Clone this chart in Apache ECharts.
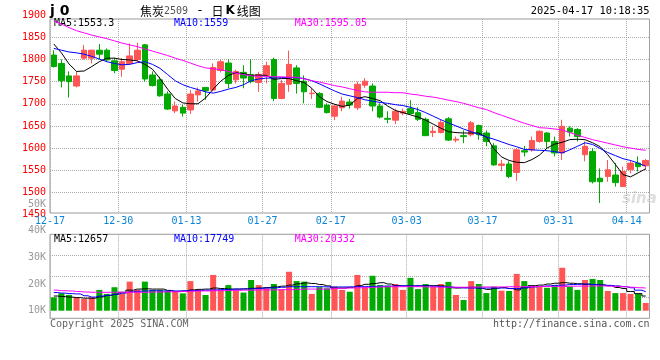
<!DOCTYPE html>
<html><head><meta charset="utf-8">
<script src="https://cdn.jsdelivr.net/npm/echarts@6/dist/echarts.min.js"></script>
<style>html,body{margin:0;padding:0;background:#fff}#c{width:660px;height:360px}</style>
</head><body><div id="c"></div><script>
const dates = ['12-17','12-18','12-19','12-20','12-23','12-24','12-25','12-26','12-27','12-30',
'12-31','01-02','01-03','01-06','01-07','01-08','01-09','01-10','01-13','01-14',
'01-15','01-16','01-17','01-20','01-21','01-22','01-23','01-24','01-27','02-05',
'02-06','02-07','02-10','02-11','02-12','02-13','02-14','02-17','02-18','02-19',
'02-20','02-21','02-24','02-25','02-26','02-27','02-28','03-03','03-04','03-05',
'03-06','03-07','03-10','03-11','03-12','03-13','03-14','03-17','03-18','03-19',
'03-20','03-21','03-24','03-25','03-26','03-27','03-28','03-31','04-01','04-02',
'04-03','04-07','04-08','04-09','04-10','04-11','04-14','04-15','04-16'];
const labeledDates = ['12-17','12-30','01-13','01-27','02-17','03-03','03-17','03-31','04-14'];

const opens = [1810,1791,1763,1740,1803,1803,1821,1821,1797,1778,
1791,1800,1833,1765,1754,1722,1684,1692,1686,1720,
1737,1731,1775,1792,1754,1771,1766,1748,1764,1800,
1712,1744,1781,1751,1723,1723,1697,1672,1691,1704,
1691,1742,1740,1695,1667,1663,1679,1689,1680,1665,
1635,1635,1666,1618,1628,1630,1651,1634,1605,1561,
1564,1545,1594,1596,1615,1634,1615,1589,1645,1642,
1585,1592,1532,1536,1539,1513,1551,1566,1560];
const closes = [1784,1752,1750,1763,1821,1821,1812,1799,1775,1795,
1808,1821,1756,1741,1718,1688,1695,1679,1722,1729,
1730,1782,1795,1746,1773,1758,1750,1766,1786,1712,
1746,1789,1746,1727,1724,1692,1680,1695,1706,1697,
1744,1751,1695,1670,1665,1683,1683,1678,1665,1628,
1638,1658,1618,1620,1626,1657,1630,1615,1562,1564,
1536,1596,1591,1617,1638,1615,1589,1649,1636,1626,
1604,1524,1524,1551,1522,1547,1566,1558,1572];
const lows = [1782,1737,1714,1737,1800,1791,1800,1795,1769,1761,
1788,1795,1750,1739,1716,1686,1679,1671,1677,1705,
1709,1728,1771,1735,1746,1735,1746,1727,1746,1706,
1710,1727,1723,1701,1711,1690,1678,1663,1683,1689,
1686,1736,1683,1667,1656,1654,1674,1676,1661,1628,
1625,1633,1616,1613,1611,1626,1619,1604,1560,1548,
1532,1526,1581,1592,1612,1598,1581,1573,1626,1615,
1570,1520,1476,1524,1513,1513,1543,1547,1551];
const highs = [1821,1800,1773,1773,1833,1822,1835,1825,1804,1803,
1836,1838,1835,1773,1761,1728,1705,1698,1731,1737,
1737,1791,1799,1800,1777,1787,1801,1772,1795,1804,
1754,1820,1787,1764,1735,1726,1701,1698,1716,1711,
1750,1758,1746,1701,1683,1689,1689,1708,1692,1669,
1650,1665,1670,1626,1640,1661,1653,1640,1611,1573,
1570,1600,1605,1626,1640,1636,1626,1664,1649,1645,
1615,1600,1554,1573,1566,1558,1573,1581,1575];

const ma5 = [1835,1815,1790,1773,1774,1784,1795,1803,1803,1800,
1799,1797,1789,1778,1757,1733,1712,1702,1700,1700,
1713,1733,1751,1764,1770,1768,1764,1765,1764,1755,
1757,1757,1752,1748,1735,1716,1705,1699,1694,1697,
1712,1716,1712,1707,1695,1685,1680,1675,1670,1663,
1654,1645,1637,1635,1634,1634,1634,1625,1598,1580,
1572,1568,1567,1574,1584,1600,1609,1613,1619,1620,
1619,1612,1603,1585,1563,1540,1535,1544,1553.3];
const ma10 = [1825,1821,1817,1815,1812,1807,1801,1795,1791,1788,
1789,1793,1795,1789,1780,1766,1752,1743,1737,1732,
1727,1724,1728,1733,1737,1743,1752,1756,1758,1758,
1759,1759,1759,1757,1752,1745,1737,1729,1722,1718,
1714,1709,1706,1703,1701,1698,1696,1692,1687,1680,
1672,1664,1657,1650,1643,1637,1631,1625,1620,1614,
1608,1603,1597,1596,1595,1594,1592,1589,1596,1604,
1612,1608,1599,1590,1583,1576,1572,1566,1559];
const ma30 = [1887,1880,1872,1865,1860,1855,1851,1847,1842,1837,
1833,1829,1824,1819,1814,1809,1803,1798,1792,1786,
1781,1779,1777,1773,1769,1766,1763,1762,1762,1761,
1761,1760,1760,1756,1752,1749,1745,1741,1738,1734,
1730,1727,1726,1726,1726,1725,1725,1722,1720,1717,
1715,1712,1708,1705,1701,1696,1691,1687,1680,1674,
1668,1662,1656,1651,1646,1645,1643,1641,1635,1629,
1624,1619,1615,1611,1607,1603,1600,1597,1595.05];

const volumes = [15000,16500,15900,15000,14400,15000,17800,16300,18800,16500,
20900,17800,20900,17800,17800,17500,17100,16500,21100,17800,
15900,23400,17800,19600,17400,16800,21500,19600,18400,20000,
18100,24600,21100,20900,16300,18800,18400,19000,17800,17100,
23400,18800,23100,19600,19400,20000,17800,22300,18100,20000,
19000,20000,20800,15900,14000,21100,20000,16600,19000,17500,
17400,23800,21100,19300,19000,18600,19600,26100,19000,17800,
21500,21900,21500,17400,16600,16600,16300,16300,12900];
const volMa5 = [15500,15300,15100,14900,14700,14700,15200,15700,16100,16900,
17700,18100,18200,18100,18100,17600,17200,17400,17800,18000,
18100,18500,18300,18100,18100,18200,18400,18500,18700,18900,
19200,19600,20100,20400,20200,19800,19300,18500,18500,18800,
19400,19900,20200,20500,20000,19400,19300,19300,19300,19400,
19400,19300,18600,18500,18700,18800,18400,18000,18400,18700,
18300,17800,18600,19400,19600,20000,20300,20500,20300,20100,
19900,19800,19700,19400,18700,18300,17200,16400,15500];
const volMa10 = [16800,16600,16400,16300,15600,15100,15500,15800,16200,16600,
17100,17300,17400,17500,17400,17400,17400,17400,17500,17600,
17700,17800,17900,18000,18100,18100,18200,18400,18500,18600,
18800,19000,19000,19000,19000,19000,18900,18900,18900,18900,
19000,19000,19100,19200,19200,19300,19300,19300,19300,19300,
19200,19000,18900,18700,18500,18500,18500,18500,18500,18500,
18300,18300,18600,18900,19100,19300,19500,19600,19800,19900,
20000,19800,19600,19500,19300,19000,18600,17700,17100];
const volMa30 = [17700,17500,17400,17200,17000,16900,16900,16900,16900,16900,
16900,16900,16900,17000,17000,17100,17100,17200,17300,17400,
17400,17500,17500,17600,17600,17700,17700,17800,17800,17800,
17900,17900,18000,18100,18100,18100,18100,18300,18400,18500,
18600,18600,18800,18900,19000,19000,19000,19000,19000,18900,
18900,18800,18800,18800,18800,18800,18900,18900,18900,18900,
19000,19000,19000,19000,19100,19100,19100,19100,19200,19200,
19200,19300,19300,19200,19100,19000,18800,18600,18500];

const priceMaTexts = ['MA5:1553.3', 'MA10:1559', 'MA30:1595.05'];
const volMaTexts = ['MA5:12657', 'MA10:17749', 'MA30:20332'];
const titleCode = 'j 0';
const titleName = '焦炭';
const titleContract = '2509';
const timeText = '2025-04-17 10:18:35';
const copyrightText = 'Copyright 2025 SINA.COM';
const urlText = 'http://finance.sina.com.cn';

const MONO = '"DejaVu Sans Mono", monospace';
const UP = '#ff5555', DOWN = '#00aa00';
const maColors = ['#000000', '#0000ff', '#ff00ff'];
const GRIDC = '#aaaaaa';
const labelSet = new Set(labeledDates);
const isLab = (i) => labelSet.has(dates[i]);
const L = 50, W = 599.5;

const chart = echarts.init(document.getElementById('c'), null, {renderer: 'canvas'});

const dottedSplit = {show: true, lineStyle: {color: GRIDC, type: 'dotted', width: 1}};

const option = {
  animation: false,
  backgroundColor: '#fff',
  grid: [
    {left: L, top: 19, width: W, height: 194, show: true, borderColor: '#999', borderWidth: 1, backgroundColor: 'transparent'},
    {left: L, top: 15.2, width: W, height: 199.3},
    {left: L, top: 234.3, width: W, height: 84, show: true, borderColor: '#999', borderWidth: 1, backgroundColor: 'transparent'},
    {left: L, top: 204, width: W, height: 106.7}
  ],
  xAxis: [
    {gridIndex: 0, type: 'category', data: dates, boundaryGap: true,
      axisLine: {show: false}, axisTick: {show: false},
      axisLabel: {show: true, interval: isLab, margin: 3, color: '#0a84d6',
        fontFamily: MONO, fontSize: 10,
        formatter: (v) => '{d|' + v + '}',
        rich: {d: {padding: [0, 7.6, 0, 0], fontFamily: MONO, fontSize: 10, color: '#0a84d6'}}},
      splitLine: Object.assign({interval: isLab}, dottedSplit)},
    {gridIndex: 1, type: 'category', data: dates, boundaryGap: true, show: false},
    {gridIndex: 2, type: 'category', data: dates, boundaryGap: true,
      axisLine: {show: false}, axisTick: {show: false}, axisLabel: {show: false},
      splitLine: Object.assign({interval: isLab}, dottedSplit)},
    {gridIndex: 3, type: 'category', data: dates, boundaryGap: true, show: false}
  ],
  yAxis: [
    {gridIndex: 0, type: 'value', show: false},
    {gridIndex: 1, type: 'value', min: 1450, max: 1900, interval: 50, position: 'left',
      axisLine: {show: false}, axisTick: {show: false},
      axisLabel: {color: '#ff0000', fontFamily: MONO, fontSize: 10, margin: 4, formatter: (v) => String(v)},
      splitLine: {show: true, showMinLine: false, showMaxLine: false, lineStyle: {color: GRIDC, type: 'dotted'}}},
    {gridIndex: 2, type: 'value', min: 0, max: 4, interval: 1,
      axisLine: {show: false}, axisTick: {show: false}, axisLabel: {show: false},
      splitLine: {show: true, showMinLine: false, showMaxLine: false, lineStyle: {color: GRIDC, type: 'dotted'}}},
    {gridIndex: 3, type: 'value', min: 10000, max: 50000, interval: 10000, position: 'left',
      axisLine: {show: false}, axisTick: {show: false}, splitLine: {show: false},
      axisLabel: {color: '#999999', fontFamily: MONO, fontSize: 10, margin: 4,
        formatter: (v) => (v / 1000) + 'K'}}
  ],
  series: [
    {type: 'candlestick', xAxisIndex: 1, yAxisIndex: 1, barWidth: 6,
      data: dates.map((d, i) => [opens[i], closes[i], lows[i], highs[i]]),
      itemStyle: {color: UP, color0: DOWN, borderColor: UP, borderColor0: DOWN, borderWidth: 1}},
    {type: 'line', xAxisIndex: 1, yAxisIndex: 1, data: ma5, symbol: 'none', lineStyle: {color: maColors[0], width: 1}},
    {type: 'line', xAxisIndex: 1, yAxisIndex: 1, data: ma10, symbol: 'none', lineStyle: {color: maColors[1], width: 1}},
    {type: 'line', xAxisIndex: 1, yAxisIndex: 1, data: ma30, symbol: 'none', lineStyle: {color: maColors[2], width: 1}},
    {type: 'bar', xAxisIndex: 3, yAxisIndex: 3, barWidth: 6,
      data: volumes.map((v, i) => ({value: v, itemStyle: {color: closes[i] >= opens[i] ? UP : DOWN}}))},
    {type: 'line', xAxisIndex: 3, yAxisIndex: 3, data: volMa5, symbol: 'none', step: 'middle', lineStyle: {color: maColors[0], width: 1}},
    {type: 'line', xAxisIndex: 3, yAxisIndex: 3, data: volMa10, symbol: 'none', step: 'middle', lineStyle: {color: maColors[1], width: 1}},
    {type: 'line', xAxisIndex: 3, yAxisIndex: 3, data: volMa30, symbol: 'none', step: 'middle', lineStyle: {color: maColors[2], width: 1}}
  ],
  graphic: [
    {type: 'text', x: 50, y: 11, style: {text: titleCode, font: 'bold 14px "DejaVu Sans"', fill: '#000', verticalAlign: 'middle'}},
    {type: 'text', x: 140, y: 11, style: {
      text: '{a|' + titleName + '}{b|' + titleContract + '}{s| - }{a|日}{k|K}{a|线图}',
      verticalAlign: 'middle',
      rich: {
        a: {font: '12px "Noto Sans CJK SC"', fill: '#000'},
        b: {font: '10px ' + MONO, fill: '#555'},
        s: {font: '13px ' + MONO, fill: '#000'},
        k: {font: 'bold 12px "DejaVu Sans"', fill: '#000', padding: [0, 2, 0, 2]}
      }}},
    {type: 'text', x: 649.5, y: 11.5, style: {text: timeText, font: '10.4px ' + MONO, fill: '#000', align: 'right', verticalAlign: 'middle'}},
    {type: 'text', x: 54, y: 23.5, style: {text: priceMaTexts[0], font: '10px ' + MONO, fill: maColors[0], verticalAlign: 'middle'}},
    {type: 'text', x: 174, y: 23.5, style: {text: priceMaTexts[1], font: '10px ' + MONO, fill: maColors[1], verticalAlign: 'middle'}},
    {type: 'text', x: 294.7, y: 23.5, style: {text: priceMaTexts[2], font: '10px ' + MONO, fill: maColors[2], verticalAlign: 'middle'}},
    {type: 'text', x: 54, y: 239, style: {text: volMaTexts[0], font: '10px ' + MONO, fill: maColors[0], verticalAlign: 'middle'}},
    {type: 'text', x: 174, y: 239, style: {text: volMaTexts[1], font: '10px ' + MONO, fill: maColors[1], verticalAlign: 'middle'}},
    {type: 'text', x: 294.7, y: 239, style: {text: volMaTexts[2], font: '10px ' + MONO, fill: maColors[2], verticalAlign: 'middle'}},
    {type: 'text', x: 50, y: 324, style: {text: copyrightText, font: '10px ' + MONO, fill: '#666', verticalAlign: 'middle'}},
    {type: 'text', x: 649.5, y: 324.5, style: {text: urlText, font: '10px ' + MONO, fill: '#555', align: 'right', verticalAlign: 'middle'}},
    {type: 'text', x: 622, y: 199, z: 0, style: {text: 'sina', font: 'italic bold 15px "DejaVu Sans"', fill: '#dedede', verticalAlign: 'middle'}}
  ]
};
chart.setOption(option);
</script></body></html>
